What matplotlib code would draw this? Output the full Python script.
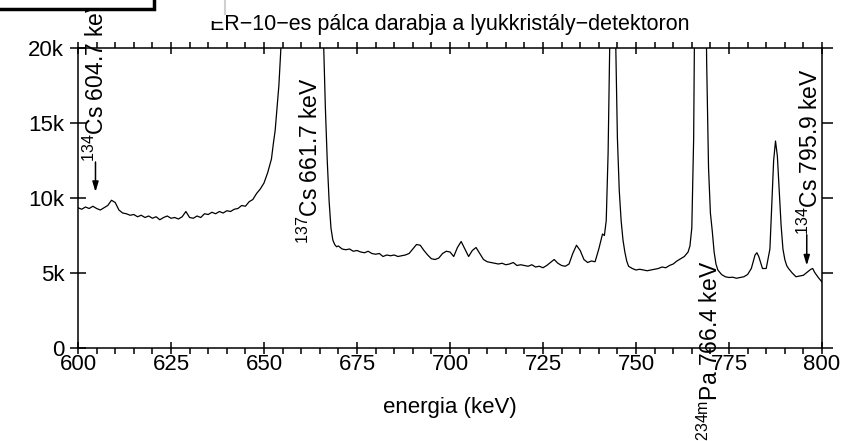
import matplotlib
matplotlib.use('Agg')
import matplotlib.pyplot as plt
from matplotlib.patches import Rectangle
from matplotlib.lines import Line2D
from matplotlib.ticker import MultipleLocator, FuncFormatter

plt.rcParams['font.family'] = ['Liberation Sans', 'DejaVu Sans']
plt.rcParams['mathtext.default'] = 'regular'

# spectrum: energy (keV) and counts (thousands)
energy = [600, 601, 602, 603, 604, 605, 606, 607, 608, 609, 610, 611, 612, 613, 614,
          615, 616, 617, 618, 619, 620, 621, 622, 623, 624, 625, 626, 627, 628, 629,
          630, 631, 632, 633, 634, 635, 636, 637, 638, 639, 640, 641, 642, 643, 644,
          645, 646, 647, 648, 649, 650, 651, 652, 652.5, 653, 653.5, 654, 654.5, 655,
          656, 658, 661, 663, 665, 665.5, 666, 666.5, 667, 667.5, 668, 668.5, 669, 669.5,
          670, 671, 672, 673, 674, 675, 676, 677, 678, 679, 680, 681, 682, 683, 684,
          685, 686, 687, 688, 689, 690, 691, 692, 693, 694, 695, 696, 697, 698, 699,
          700, 701, 702, 703, 704, 705, 706, 707, 708, 709, 710, 711, 712, 713, 714,
          715, 716, 717, 718, 719, 720, 721, 722, 723, 724, 725, 726, 727, 728, 729,
          730, 731, 732, 733, 734, 735, 736, 737, 738, 739, 740, 741, 741.5, 742, 742.5,
          743, 743.5, 744, 744.5, 745, 745.5, 746, 746.5, 747, 747.5, 748, 749, 750, 751,
          752, 753, 754, 755, 756, 757, 758, 759, 760, 761, 762, 763, 764, 764.5, 765,
          765.5, 766, 767, 768, 768.5, 769, 769.5, 770, 770.5, 771, 771.5, 772, 773, 774,
          775, 776, 777, 778, 779, 780, 781, 782, 782.5, 783, 784, 785, 786, 786.5,
          787, 787.5, 788, 788.5, 789, 789.5, 790, 790.5, 791, 792, 793, 794, 795, 796, 797,
          797.5, 798, 799, 800]
counts_k = [9.35, 9.25, 9.40, 9.30, 9.45, 9.30, 9.20, 9.35, 9.50, 9.85, 9.70, 9.20, 9.00, 8.95, 8.85,
            8.90, 8.75, 8.85, 8.70, 8.80, 8.65, 8.75, 8.55, 8.70, 8.80, 8.65, 8.70, 8.60, 8.75, 9.10,
            8.70, 8.65, 8.80, 8.70, 8.95, 8.90, 9.05, 8.95, 9.10, 9.00, 9.15, 9.10, 9.25, 9.30, 9.50,
            9.45, 9.75, 9.90, 10.3, 10.6, 11.0, 11.7, 12.6, 13.6, 14.5, 16.0, 17.5, 19.8, 23.0,
            30.0, 80.0, 150.0, 100.0, 35.0, 25.0, 20.5, 16.0, 12.5, 9.8, 8.0, 7.2, 6.9, 6.75,
            6.8, 6.6, 6.55, 6.6, 6.45, 6.5, 6.4, 6.35, 6.45, 6.3, 6.25, 6.3, 6.1, 6.2, 6.15,
            6.2, 6.1, 6.15, 6.2, 6.3, 6.6, 6.9, 6.85, 6.5, 6.2, 5.95, 5.9, 6.0, 6.3, 6.45,
            6.4, 6.1, 6.7, 7.1, 6.6, 6.1, 6.5, 6.7, 6.3, 5.9, 5.75, 5.7, 5.65, 5.6, 5.65,
            5.55, 5.6, 5.7, 5.5, 5.55, 5.5, 5.45, 5.55, 5.4, 5.45, 5.35, 5.5, 5.7, 5.9, 5.65,
            5.5, 5.45, 5.6, 6.3, 6.85, 6.5, 5.9, 5.7, 5.8, 5.75, 6.6, 7.6, 7.5, 8.5, 13.0,
            21.0, 30.0, 28.0, 21.0, 14.0, 10.5, 8.5, 7.2, 6.4, 5.8, 5.45, 5.3, 5.2, 5.25,
            5.2, 5.15, 5.2, 5.25, 5.3, 5.4, 5.35, 5.5, 5.6, 5.8, 5.95, 6.1, 6.4, 6.8, 8.0,
            14.0, 30.0, 60.0, 45.0, 30.0, 19.0, 12.0, 9.0, 7.8, 6.4, 5.6, 5.2, 4.9, 4.75,
            4.7, 4.72, 4.65, 4.7, 4.75, 4.9, 5.3, 6.2, 6.35, 6.1, 5.3, 5.3, 6.6, 9.5,
            12.5, 13.8, 12.8, 10.5, 8.2, 6.6, 5.9, 5.5, 5.3, 5.0, 4.75, 4.8, 4.85, 5.05, 5.25,
            5.3, 5.05, 4.7, 4.4]

# peak labels: text, x, y of text bottom (counts), arrow (from, to) or None
labels = [r'$^{134}$Cs 604.7 keV', r'$^{137}$Cs 661.7 keV',
          r'$^{234m}$Pa 766.4 keV', r'$^{134}$Cs 795.9 keV']
label_x = [604.9, 662.4, 770.0, 796.9]
label_y = [12400, 6900, -6200, 7550]
arrow_x = [604.7, None, None, 795.9]
arrow_y = [(12400, 10400), None, None, (7550, 5500)]

fig = plt.figure(figsize=(8.51, 4.41), dpi=100)
ax = fig.add_axes([78/851, 1 - 348/441, 744/851, 300/441])

ax.plot(energy, [c * 1000 for c in counts_k], color='black', lw=0.9)
ax.set_xlim(600, 800)
ax.set_ylim(0, 20000)

ax.xaxis.set_major_locator(MultipleLocator(25))
ax.xaxis.set_minor_locator(MultipleLocator(5))
ax.yaxis.set_major_locator(MultipleLocator(5000))
ax.yaxis.set_major_formatter(FuncFormatter(lambda v, p: '0' if v == 0 else '%dk' % (v / 1000)))

ax.tick_params(axis='x', which='major', direction='inout', length=9, width=1.1,
               top=True, labelsize=16, pad=0)
ax.tick_params(axis='x', which='minor', direction='out', length=4, width=1.1, top=True)
ax.tick_params(axis='y', which='major', direction='inout', length=12, width=1.1,
               labelsize=16, pad=4)
ax.tick_params(axis='y', which='major', right=True)
for t in ax.yaxis.get_major_ticks():
    t.tick2line.set_marker(matplotlib.lines.TICKRIGHT)
    t.tick2line.set_markersize(8)
for s in ax.spines.values():
    s.set_linewidth(1.1)

ax.set_xlabel('energia (keV)', fontsize=16, labelpad=16)
ax.set_title('ER\u221210\u2212es pálca darabja a lyukkristály\u2212detektoron',
             fontsize=15.5, pad=13)

for txt, x, y in zip(labels, label_x, label_y):
    ax.text(x, y, txt, rotation=90, ha='center', va='bottom', fontsize=16.5,
            clip_on=False)
for x, ay in zip(arrow_x, arrow_y):
    if x is None:
        continue
    ax.annotate('', xy=(x, ay[1]), xytext=(x, ay[0]), annotation_clip=False,
                arrowprops=dict(arrowstyle='-|>,head_width=0.18,head_length=0.6',
                                color='black', lw=1.1, shrinkA=0, shrinkB=0))

# window pieces lying over the top left corner of the screenshot
fig.add_artist(Rectangle((155/851, 1 - 21/441), 70/851, 21/441, transform=fig.transFigure,
                         facecolor='white', edgecolor='none', zorder=10))
fig.add_artist(Line2D([225/851, 225/851], [1, 1 - 14/441], transform=fig.transFigure,
                      color='#d0d0d0', lw=1.5, zorder=11))
fig.add_artist(Rectangle((-10/851, 1 - 9/441), 164/851, 20/441, transform=fig.transFigure,
                         facecolor='white', edgecolor='black', lw=2.5, zorder=12,
                         clip_on=False))

fig.savefig('out.png', dpi=100)
